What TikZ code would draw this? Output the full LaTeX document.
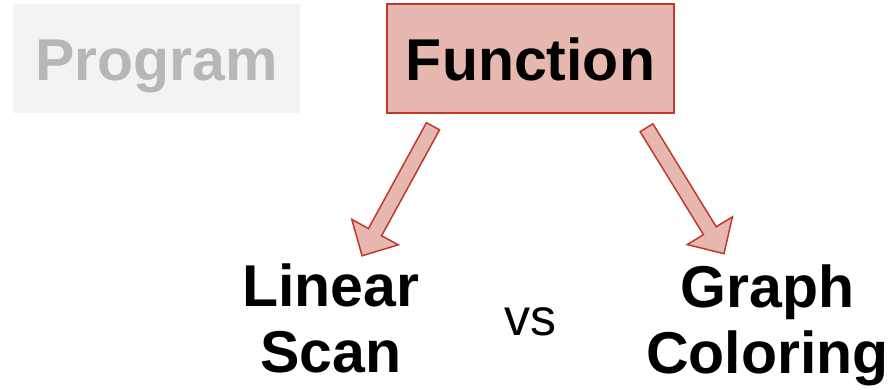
\documentclass[tikz,border=0pt]{standalone}
\usepackage{fontspec}
\setmainfont{Liberation Sans}
\usetikzlibrary{calc}
\definecolor{fnfill}{HTML}{E6B8AF}
\definecolor{fnline}{RGB}{190,58,45}
\definecolor{pgfill}{HTML}{F3F3F3}
\definecolor{pgtext}{HTML}{B7B7B7}
\begin{document}
\begin{tikzpicture}[x=1pt,y=1pt,
  box/.style={rectangle, minimum width=287pt, minimum height=109pt, inner sep=0pt, text height=50pt, text depth=5pt},
  big/.style={font=\fontsize{59}{66}\selectfont\bfseries},
  blockarrow/.style={draw=fnline, fill=fnfill, line width=1.5pt, line join=miter}]
\useasboundingbox (0,0) rectangle (892,389);
\node[box, fill=pgfill, text=pgtext, big] (prog) at (156.5,330.5) {Program};
\node[box, fill=fnfill, draw=fnline, line width=1.5pt, big] (func) at (530.5,330.5) {Function};
\node[big, align=center, anchor=base] (ls) at (331,17) {Linear\\Scan};
\node[font=\fontsize{52}{60}\selectfont, anchor=base] (vs) at (530,54) {vs};
\node[big, align=center, anchor=base] (gc) at (767.5,16) {Graph\\Coloring};
\coordinate (la) at ($(func.south)+(-97.5,-12.5)$);
\coordinate (ra) at ($(func.south)+(116,-14)$);
\draw[blockarrow, shift={(la)}, rotate=241.3] (0,-7.5) -- (120.7,-7.5) -- (120.7,-26.5) -- (147.7,0) -- (120.7,26.5) -- (120.7,7.5) -- (0,7.5) -- cycle;
\draw[blockarrow, shift={(ra)}, rotate=-58.4] (0,-7.5) -- (120.9,-7.5) -- (120.9,-26.5) -- (147.9,0) -- (120.9,26.5) -- (120.9,7.5) -- (0,7.5) -- cycle;
\end{tikzpicture}
\end{document}
